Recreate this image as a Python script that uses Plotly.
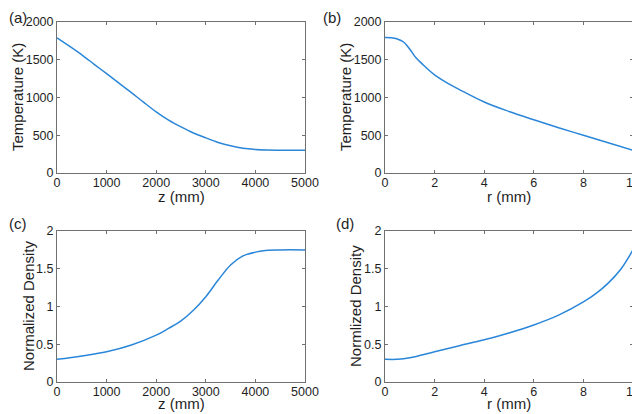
import plotly.graph_objects as go
from plotly.subplots import make_subplots

# (a) Temperature vs z
z_a = [0, 250, 500, 750, 1000, 1250, 1500, 1750, 2000, 2250, 2500, 2750, 3000, 3250, 3500, 3750, 4000, 4250, 4500, 5000]
T_a = [1790, 1680, 1565, 1440, 1315, 1190, 1065, 935, 810, 700, 610, 530, 465, 405, 360, 328, 312, 305, 302, 300]

# (b) Temperature vs r
r_b = [0, 0.25, 0.5, 0.75, 1.0, 1.25, 1.5, 2, 2.5, 3, 4, 5, 6, 7, 8, 9, 10]
T_b = [1795, 1792, 1775, 1735, 1640, 1525, 1445, 1300, 1195, 1105, 940, 815, 705, 600, 500, 400, 300]

# (c) Normalized density vs z
z_c = [0, 500, 1000, 1500, 2000, 2250, 2500, 2750, 3000, 3250, 3500, 3750, 4000, 4250, 4500, 5000]
rho_c = [0.30, 0.345, 0.40, 0.49, 0.62, 0.71, 0.81, 0.95, 1.13, 1.35, 1.55, 1.67, 1.72, 1.745, 1.75, 1.75]

# (d) Normalized density vs r
r_d = [0, 0.5, 1, 2, 3, 4, 5, 6, 7, 8, 8.5, 9, 9.5, 10]
rho_d = [0.30, 0.30, 0.32, 0.40, 0.48, 0.56, 0.65, 0.755, 0.885, 1.06, 1.17, 1.31, 1.49, 1.75]

panel_labels = ["(a)", "(b)", "(c)", "(d)"]
x_titles = ["z (mm)", "r (mm)", "z (mm)", "r (mm)"]
y_titles = ["Temperature (K)", "Temperature (K)", "Normalized Density", "Normlized Density"]

LINE = "#2a86d8"
FONT = "Liberation Sans, Arial, sans-serif"
TXT = "#1e1e1e"

# page body has an 8px margin; figure is laid out in screen pixels minus that offset
W, H, OFF = 640, 414, 8


def fx(sx):
    return (sx - OFF) / W


def fy(sy):
    return 1 - (sy - OFF) / H


fig = make_subplots(rows=2, cols=2)
fig.add_trace(go.Scatter(x=z_a, y=T_a, mode="lines", line=dict(color=LINE, width=1.5, shape="spline")), row=1, col=1)
fig.add_trace(go.Scatter(x=r_b, y=T_b, mode="lines", line=dict(color=LINE, width=1.5, shape="spline")), row=1, col=2)
fig.add_trace(go.Scatter(x=z_c, y=rho_c, mode="lines", line=dict(color=LINE, width=1.5, shape="spline")), row=2, col=1)
fig.add_trace(go.Scatter(x=r_d, y=rho_d, mode="lines", line=dict(color=LINE, width=1.5, shape="spline")), row=2, col=2)

xpix = [(57, 305), (385, 633)]
ypix = [(22, 173), (231, 382)]
xdom = [[fx(a), fx(b)] for a, b in xpix]
ydom = [[fy(b), fy(a)] for a, b in ypix]

axis_common = dict(showgrid=False, zeroline=False, showline=True, linecolor="#707070", linewidth=1,
                   mirror="ticks", ticks="inside", ticklen=3, tickcolor="#707070", automargin=False,
                   ticklabeloverflow="allow", tickfont=dict(family=FONT, size=12.5, color=TXT))

layouts = {}
for i in range(4):
    r, c = divmod(i, 2)
    xr = [0, 5000] if c == 0 else [0, 10]
    yr = [0, 2000] if r == 0 else [0, 2]
    xdt = 1000 if c == 0 else 2
    ydt = 500 if r == 0 else 0.5
    n = "" if i == 0 else str(i + 1)
    layouts["xaxis" + n] = dict(axis_common, domain=xdom[c], range=xr, dtick=xdt, ticklabelstandoff=-2)
    layouts["yaxis" + n] = dict(axis_common, domain=ydom[r], range=yr, dtick=ydt)

fig.update_layout(**layouts)

# axis titles (screen-pixel centres)
xt_pos = [(181, 196), (509, 196), (181, 403), (509, 403)]
yt_pos = [(17, 97), (345, 97), (28, 306), (355, 306)]
for i in range(4):
    fig.add_annotation(text=x_titles[i], x=fx(xt_pos[i][0]), y=fy(xt_pos[i][1]), xref="paper", yref="paper",
                       xanchor="center", yanchor="middle", showarrow=False,
                       font=dict(family=FONT, size=15, color=TXT))
    fig.add_annotation(text=y_titles[i], x=fx(yt_pos[i][0]), y=fy(yt_pos[i][1]), xref="paper", yref="paper",
                       xanchor="center", yanchor="middle", textangle=-90, showarrow=False,
                       font=dict(family=FONT, size=15, color=TXT))

label_pos = [(8, 8), (322, 8), (8, 214), (335, 214)]
for lab, (lx, ly) in zip(panel_labels, label_pos):
    fig.add_annotation(text=lab, x=fx(lx), y=fy(ly), xref="paper", yref="paper", xanchor="left", yanchor="top",
                       showarrow=False, font=dict(family=FONT, size=15, color=TXT), borderpad=0)

fig.update_layout(width=W, height=H, margin=dict(l=0, r=0, t=0, b=0),
                  paper_bgcolor="white", plot_bgcolor="white", showlegend=False)

fig.write_html("out.html")
